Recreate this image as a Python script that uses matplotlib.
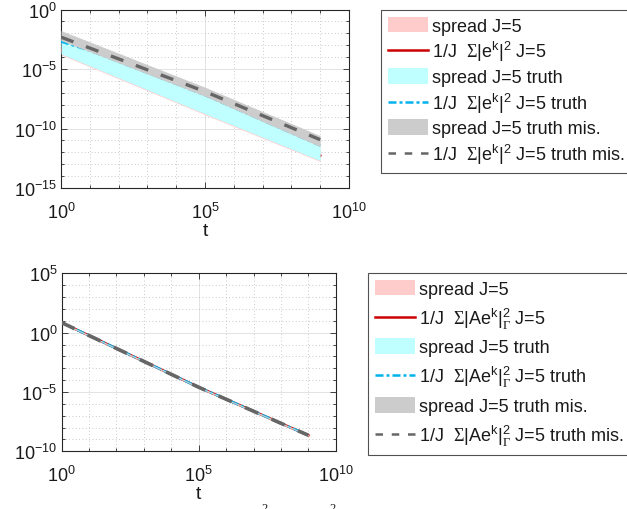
import numpy as np
import matplotlib
matplotlib.use("Agg")
import matplotlib.pyplot as plt
from matplotlib.patches import Patch
from matplotlib.lines import Line2D

plt.rcParams['font.family'] = ['Liberation Sans', 'DejaVu Sans']
plt.rcParams['mathtext.fontset'] = 'custom'
plt.rcParams['mathtext.rm'] = 'Liberation Sans'
plt.rcParams['mathtext.it'] = 'Liberation Sans'
plt.rcParams['mathtext.sf'] = 'Liberation Serif'

# time grid (decades)
t = [1e0, 1e1, 1e2, 1e3, 1e4, 1e5, 1e6, 1e7, 1e8, 1e9]

# ---- upper panel: log10 of 1/J sum |e^k|^2 and ensemble spreads ----
spread_lo = [-3.80, -4.81, -5.82, -6.82, -7.83, -8.84, -9.82, -10.81, -11.79, -12.77]
spread_hi = [-2.95, -3.90, -4.85, -5.80, -6.75, -7.70, -8.72, -9.75, -10.78, -11.80]
mean_err = [-3.40, -4.36, -5.32, -6.28, -7.24, -8.20, -9.22, -10.24, -11.26, -12.28]

truth_lo = [-3.73, -4.74, -5.75, -6.75, -7.76, -8.77, -9.75, -10.74, -11.72, -12.70]
truth_hi = [-2.46, -3.40, -4.33, -5.27, -6.20, -7.14, -8.20, -9.26, -10.32, -11.38]
truth_err = [-2.69, -3.45, -4.38, -5.32, -6.25, -7.19, -8.25, -9.31, -10.37, -11.43]

mis_lo = [-2.61, -3.55, -4.48, -5.42, -6.35, -7.29, -8.35, -9.41, -10.47, -11.53]
mis_hi = [-1.77, -2.72, -3.67, -4.63, -5.58, -6.53, -7.55, -8.57, -9.58, -10.60]
mis_err = [-2.32, -3.24, -4.15, -5.07, -5.98, -6.90, -7.91, -8.92, -9.93, -10.94]

# ---- lower panel: log10 of 1/J sum |A e^k|_Gamma^2 (all three runs coincide) ----
res_lo = [0.80, -0.29, -1.38, -2.47, -3.56, -4.65, -5.66, -6.67, -7.69, -8.70]
res_hi = [0.90, -0.19, -1.28, -2.37, -3.46, -4.55, -5.56, -6.57, -7.59, -8.60]
res_err = [0.85, -0.24, -1.33, -2.42, -3.51, -4.60, -5.61, -6.62, -7.64, -8.65]

pink = (1.0, 0.8, 0.8)
red = (0.8, 0.0, 0.0)
cyan_fill = (0.75, 1.0, 1.0)
cyan_line = (0.0, 0.7, 0.92)
gray_fill = (0.8, 0.8, 0.8)
gray_line = (0.4, 0.4, 0.4)
dashdot = (0, (3.2, 1.2, 1.2, 1.2))
dashed = (0, (4, 4))

axis_col = (0.15, 0.15, 0.15)
text_col = (0.1, 0.1, 0.1)

fig = plt.figure(figsize=(6.27, 5.10), dpi=100)


def p10(v):
    return 10.0 ** np.asarray(v)


def style_axes(ax, ylim, yticks):
    ax.set_xscale('log')
    ax.set_yscale('log')
    ax.set_xlim(1e0, 1e10)
    ax.set_ylim(*ylim)
    ax.set_xticks([1e0, 1e5, 1e10])
    ax.set_yticks(yticks)
    ax.xaxis.set_minor_locator(matplotlib.ticker.LogLocator(base=10, subs=[1.0], numticks=30))
    ax.yaxis.set_minor_locator(matplotlib.ticker.LogLocator(base=10, subs=[1.0], numticks=30))
    ax.xaxis.set_minor_formatter(matplotlib.ticker.NullFormatter())
    ax.yaxis.set_minor_formatter(matplotlib.ticker.NullFormatter())
    ax.grid(True, which='major', color=(0.87, 0.87, 0.87), linestyle='-', linewidth=0.6)
    ax.grid(True, which='minor', color=(0.72, 0.72, 0.72), linestyle=(0, (1, 3)), linewidth=0.6)
    ax.set_axisbelow(True)
    ax.tick_params(which='both', direction='in', top=True, right=True, colors=axis_col,
                   labelcolor=text_col, labelsize=13, width=0.6)
    ax.tick_params(which='major', length=4.5)
    ax.tick_params(which='minor', length=2.5)
    ax.tick_params(axis='x', which='major', pad=10)
    ax.tick_params(axis='y', which='major', pad=3)
    for s in ax.spines.values():
        s.set_color(axis_col)
        s.set_linewidth(0.8)
    ax.set_xlabel('t', fontsize=14, labelpad=0, color=text_col)


def add_legend(sym, anchor, spacing):
    handles = [
        Patch(facecolor=pink, edgecolor='none'),
        Line2D([], [], color=red, lw=1.8),
        Patch(facecolor=cyan_fill, edgecolor='none'),
        Line2D([], [], color=cyan_line, lw=1.8, linestyle=dashdot),
        Patch(facecolor=gray_fill, edgecolor='none'),
        Line2D([], [], color=gray_line, lw=1.8, linestyle=(0, (3, 3.5))),
    ]
    labels = [
        'spread J=5',
        '1/J  $\\mathsf{\\Sigma}$' + sym + ' J=5',
        'spread J=5 truth',
        '1/J  $\\mathsf{\\Sigma}$' + sym + ' J=5 truth',
        'spread J=5 truth mis.',
        '1/J  $\\mathsf{\\Sigma}$' + sym + ' J=5 truth mis.',
    ]
    leg = fig.legend(handles, labels, loc='upper left', bbox_to_anchor=anchor,
                     bbox_transform=fig.transFigure, borderaxespad=0, frameon=True,
                     fancybox=False, edgecolor=axis_col, fontsize=13,
                     handlelength=2.2, handleheight=0.95, handletextpad=0.22,
                     labelspacing=spacing, borderpad=0.38)
    leg.get_frame().set_linewidth(0.8)
    for txt in leg.get_texts():
        txt.set_color(text_col)
    return leg


# upper panel
ax1 = fig.add_axes([61 / 627, 1 - 189 / 510, 288 / 627, 178.5 / 510])
ax1.fill_between(t, p10(spread_lo), p10(spread_hi), color=pink, lw=0, zorder=2)
ax1.plot(t, p10(mean_err), color=red, lw=1.8, zorder=3)
ax1.fill_between(t, p10(truth_lo), p10(truth_hi), color=cyan_fill, lw=0, zorder=4)
ax1.plot(t, p10(truth_err), color=cyan_line, lw=1.8, linestyle=dashdot, zorder=5)
ax1.fill_between(t, p10(mis_lo), p10(mis_hi), color=gray_fill, lw=0, zorder=6)
ax1.plot(t, p10(mis_err), color=gray_line, lw=2.4, linestyle=dashed, zorder=7)
style_axes(ax1, (1e-15, 1e0), [1e-15, 1e-10, 1e-5, 1e0])

# lower panel
ax2 = fig.add_axes([61.5 / 627, 1 - 452.3 / 510, 274.3 / 627, 178 / 510])
ax2.fill_between(t, p10(res_lo), p10(res_hi), color=pink, lw=0, zorder=2)
ax2.plot(t, p10(res_err), color=red, lw=1.8, zorder=3)
ax2.fill_between(t, p10(res_lo), p10(res_hi), color=cyan_fill, lw=0, zorder=4)
ax2.plot(t, p10(res_err), color=cyan_line, lw=1.8, linestyle=dashdot, zorder=5)
ax2.fill_between(t, p10(res_lo), p10(res_hi), color=gray_fill, lw=0, zorder=6)
ax2.plot(t, p10(res_err), color=gray_line, lw=2.6, linestyle=dashed, zorder=7)
style_axes(ax2, (1e-10, 1e5), [1e-10, 1e-5, 1e0, 1e5])

add_legend('|e$^{\\mathrm{k}}$|$^2$', (381 / 627, 1 - 11 / 510), 0.25)
add_legend('|Ae$^{\\mathrm{k}}$|$^2_{\\mathsf{\\Gamma}}$', (368 / 627, 1 - 274 / 510), 0.43)

# caption line below the panels, cut off by the lower figure edge
for xc in (265, 333):
    fig.text(xc / 627, 1 - 503 / 510, '2', fontsize=9, family='Liberation Serif',
             ha='center', va='top', color=text_col)

fig.savefig('out.png', dpi=100)
